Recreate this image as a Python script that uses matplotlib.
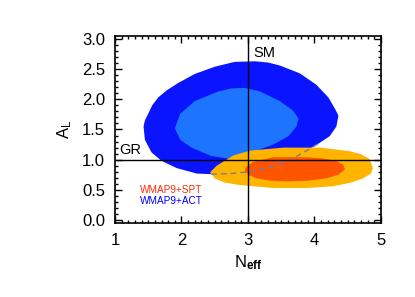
import matplotlib
matplotlib.use("Agg")
import matplotlib.pyplot as plt
from matplotlib.ticker import MultipleLocator

plt.rcParams['font.family'] = ['Liberation Sans', 'DejaVu Sans']
plt.rcParams['mathtext.fontset'] = 'custom'
plt.rcParams['mathtext.rm'] = 'Liberation Sans'
plt.rcParams['mathtext.it'] = 'Liberation Sans'
plt.rcParams['mathtext.bf'] = 'Liberation Sans:bold'

# WMAP9+ACT 95% contour (outer)
act95_x = [3.10, 2.80, 2.50, 2.20, 1.95, 1.78, 1.65, 1.56, 1.50, 1.45, 1.43, 1.45, 1.55, 1.70, 1.93, 2.23,
           2.45, 2.75, 3.03, 3.28, 3.58, 3.93, 4.08, 4.23, 4.33, 4.36, 4.31, 4.21, 4.03, 3.78, 3.48, 3.30]
act95_y = [2.63, 2.62, 2.54, 2.42, 2.27, 2.15, 2.03, 1.90, 1.76, 1.65, 1.55, 1.33, 1.12, 0.98, 0.86, 0.77,
           0.76, 0.77, 0.80, 0.86, 0.96, 1.18, 1.28, 1.39, 1.55, 1.73, 1.84, 2.03, 2.24, 2.43, 2.56, 2.61]
# WMAP9+ACT 68% contour (inner)
act68_x = [2.95, 2.75, 2.55, 2.20, 1.98, 1.90, 1.98, 2.15, 2.45, 2.75, 2.95, 3.18, 3.38, 3.61, 3.73, 3.76, 3.68, 3.48, 3.18]
act68_y = [2.19, 2.18, 2.13, 1.97, 1.76, 1.52, 1.33, 1.20, 1.06, 1.01, 1.06, 1.17, 1.25, 1.39, 1.55, 1.68, 1.81, 1.97, 2.13]
# WMAP9+SPT 95% contour (outer)
spt95_x = [2.43, 2.50, 2.65, 2.88, 3.38, 3.88, 4.28, 4.55, 4.73, 4.85, 4.88, 4.83, 4.70, 4.53,
           4.08, 3.53, 3.03, 2.78, 2.53]
spt95_y = [0.79, 0.69, 0.62, 0.58, 0.53, 0.53, 0.56, 0.62, 0.69, 0.77, 0.86, 1.01, 1.09, 1.14,
           1.20, 1.20, 1.15, 1.07, 0.90]
# WMAP9+SPT 68% contour (inner)
spt68_x = [2.95, 3.02, 3.13, 3.35, 3.58, 3.90, 4.18, 4.36, 4.46, 4.43, 4.33, 4.12, 3.88, 3.38, 3.08, 2.98]
spt68_y = [0.82, 0.74, 0.69, 0.65, 0.64, 0.65, 0.69, 0.75, 0.84, 0.92, 0.98, 1.02, 1.04, 1.04, 0.96, 0.89]
# hidden lower edge of WMAP9+ACT 95% contour (dashed)
edge_x = [2.45, 2.75, 3.03, 3.28, 3.58, 3.93, 4.08]
edge_y = [0.76, 0.77, 0.80, 0.86, 0.96, 1.18, 1.28]

sm_neff = 3.0
gr_al = 1.0
xticks = [1, 2, 3, 4, 5]
yticks = [0.0, 0.5, 1.0, 1.5, 2.0, 2.5, 3.0]

fig = plt.figure(figsize=(4.15, 2.97), dpi=100)
ax = fig.add_axes([0.277, 0.249, 0.641, 0.630])

ax.fill(act95_x, act95_y, color='#0a14ff', lw=0, zorder=1)
ax.fill(act68_x, act68_y, color='#1c74ff', lw=0, zorder=2)
ax.fill(spt95_x, spt95_y, color='#ffb400', lw=0, zorder=3)
ax.fill(spt68_x, spt68_y, color='#ff5500', lw=0, zorder=4)
ax.plot(edge_x, edge_y, ls=(0, (4, 3)), color='#7a7aa0', lw=1.0, zorder=5)

ax.axvline(sm_neff, color='black', lw=1.0, zorder=6)
ax.axhline(gr_al, color='black', lw=1.0, zorder=6)

ax.text(3.08, 2.77, 'SM', fontsize=10.5, va='center', ha='left')
ax.text(1.07, 1.16, 'GR', fontsize=10.5, va='center', ha='left')
ax.text(1.38, 0.50, 'WMAP9+SPT', fontsize=7.2, color='#ff2a00', va='center', ha='left')
ax.text(1.38, 0.32, 'WMAP9+ACT', fontsize=7.2, color='#0000ff', va='center', ha='left')

ax.set_xlim(1, 5)
ax.set_ylim(-0.05, 3.05)
ax.set_xticks(xticks)
ax.set_yticks(yticks)
ax.set_xticklabels([str(t) for t in xticks])
ax.set_yticklabels(['%.1f' % t for t in yticks])
ax.xaxis.set_minor_locator(MultipleLocator(0.1))
ax.yaxis.set_minor_locator(MultipleLocator(0.1))
ax.tick_params(which='both', direction='in', top=True, right=True, labelsize=12, width=1.0)
ax.tick_params(which='major', length=5, pad=7)
ax.tick_params(which='minor', length=2.5)
for s in ax.spines.values():
    s.set_linewidth(1.2)

ax.set_xlabel(r'N$_{\mathbf{eff}}$', fontsize=12, labelpad=4)
ax.set_ylabel(r'A$_{\mathrm{L}}$', fontsize=12, labelpad=6)

fig.savefig('out.png', dpi=100)
